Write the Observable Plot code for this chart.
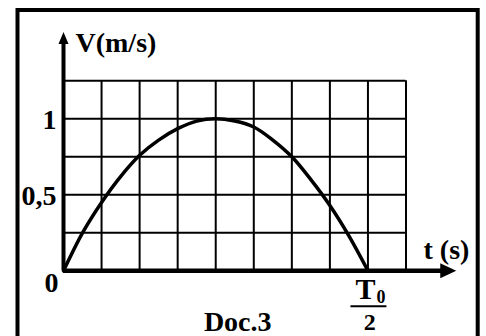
<!DOCTYPE html>
<html>
<head>
<meta charset="utf-8">
<script src="https://cdn.jsdelivr.net/npm/d3@7"></script>
<script src="https://cdn.jsdelivr.net/npm/@observablehq/plot@0.6"></script>
<style>
html, body { margin: 0; padding: 0; background: #fff; }
#chart { position: relative; width: 486px; height: 336px; overflow: hidden; }
</style>
</head>
<body>
<div id="chart"></div>
<script>
// Curve (t in grid units, V in m/s)
const timeValues  = [0, 0.5, 1, 1.5, 2, 2.5, 3, 3.5, 4, 4.5, 5, 5.5, 6, 6.5, 7, 7.5, 8];
const speedValues = [0, 0.25, 0.45, 0.62, 0.76, 0.86, 0.935, 0.985, 1, 0.985, 0.946, 0.86, 0.75, 0.60, 0.43, 0.23, 0];

// Grid
const gridT = [0, 1, 2, 3, 4, 5, 6, 7, 8, 9];
const gridV = [0, 0.25, 0.5, 0.75, 1, 1.25];

// Tick labels
const yTickValues = [1, 0.5];
const yTickLabels = ["1", "0,5"];
const originLabel = "0";
const yAxisTitle = "V(m/s)";
const xAxisTitle = "t (s)";
const periodTick = 8;
const periodNumerator = "T";
const periodSubscript = "0";
const periodDenominator = "2";
const docLabel = "Doc.3";

// Axis extents (arrow tips)
const xAxisEnd = 10.32;
const yAxisEnd = 1.571;

const curveData = timeValues.map((t, i) => ({t, v: speedValues[i]}));
const yTicks = yTickValues.map((v, i) => ({v, label: yTickLabels[i]}));

const font = "'Liberation Serif', 'Times New Roman', serif";

const arrowRight = {draw(ctx) { ctx.moveTo(0, 0); ctx.lineTo(-16, -7.5); ctx.lineTo(-16, 7.5); ctx.closePath(); }};
const arrowUp = {draw(ctx) { ctx.moveTo(0, 0); ctx.lineTo(-5, 12); ctx.lineTo(5, 12); ctx.closePath(); }};

const textBase = {fontFamily: font, fontWeight: "bold", fill: "black"};

const chart = Plot.plot({
  width: 486,
  height: 336,
  marginLeft: 63,
  marginRight: 80.5,
  marginTop: 80.3,
  marginBottom: 65.7,
  x: {domain: [0, 9], axis: null},
  y: {domain: [0, 1.25], axis: null},
  style: {background: "white", fontFamily: font, overflow: "visible"},
  marks: [
    Plot.ruleX(gridT, {x: d => d, y1: 0, y2: 1.25, stroke: "black", strokeWidth: 2}),
    Plot.ruleY(gridV, {y: d => d, x1: 0, x2: 9, stroke: "black", strokeWidth: 2}),
    Plot.ruleY([0], {y: d => d, x1: 0, x2: xAxisEnd - 0.3, stroke: "black", strokeWidth: 4.5}),
    Plot.ruleX([0], {x: d => d, y1: 0, y2: yAxisEnd - 0.06, stroke: "black", strokeWidth: 4}),
    Plot.dot([{t: xAxisEnd, v: 0}], {x: "t", y: "v", symbol: arrowRight, fill: "black", stroke: "none", r: 5}),
    Plot.dot([{t: 0, v: yAxisEnd}], {x: "t", y: "v", symbol: arrowUp, fill: "black", stroke: "none", r: 5}),
    Plot.line(curveData, {x: "t", y: "v", curve: "catmull-rom", stroke: "black", strokeWidth: 3.5}),
    Plot.text(yTicks, {x: 0, y: "v", text: "label", textAnchor: "end", dx: -7, dy: 1.5, fontSize: 28, ...textBase}),
    Plot.text([originLabel], {x: 0, y: 0, text: d => d, textAnchor: "end", dx: -5, dy: 12.7, fontSize: 28, ...textBase}),
    Plot.text([yAxisTitle], {x: 0, y: yAxisEnd, text: d => d, textAnchor: "start", dx: 12, dy: 11, fontSize: 28, ...textBase}),
    Plot.text([xAxisTitle], {x: 9, y: 0, text: d => d, textAnchor: "start", dx: 17.5, dy: -20.8, fontSize: 28, ...textBase}),
    Plot.text([periodNumerator], {x: periodTick, y: 0, text: d => d, textAnchor: "middle", dx: -2.5, dy: 19, fontSize: 30, ...textBase}),
    Plot.text([periodSubscript], {x: periodTick, y: 0, text: d => d, textAnchor: "start", dx: 8.5, dy: 26.5, fontSize: 18, ...textBase}),
    Plot.text([periodDenominator], {x: periodTick, y: 0, text: d => d, textAnchor: "middle", dx: 1.8, dy: 52, fontSize: 24, ...textBase}),
    Plot.text([docLabel], {x: 4, y: 0, text: d => d, textAnchor: "middle", dx: 22, dy: 51, fontSize: 28, ...textBase})
  ]
});

document.getElementById("chart").appendChild(chart);

// Fraction bar and outer frame
const svg = d3.select(chart);
const xs = chart.scale("x"), ys = chart.scale("y");
const px = xs.apply(periodTick), py = ys.apply(0);
svg.append("line")
  .attr("x1", px - 17).attr("x2", px + 19)
  .attr("y1", py + 36).attr("y2", py + 36)
  .attr("stroke", "black").attr("stroke-width", 2);
svg.append("path")
  .attr("d", "M17.5,340V10H477.7V340")
  .attr("fill", "none").attr("stroke", "black").attr("stroke-width", 4);
</script>
</body>
</html>
